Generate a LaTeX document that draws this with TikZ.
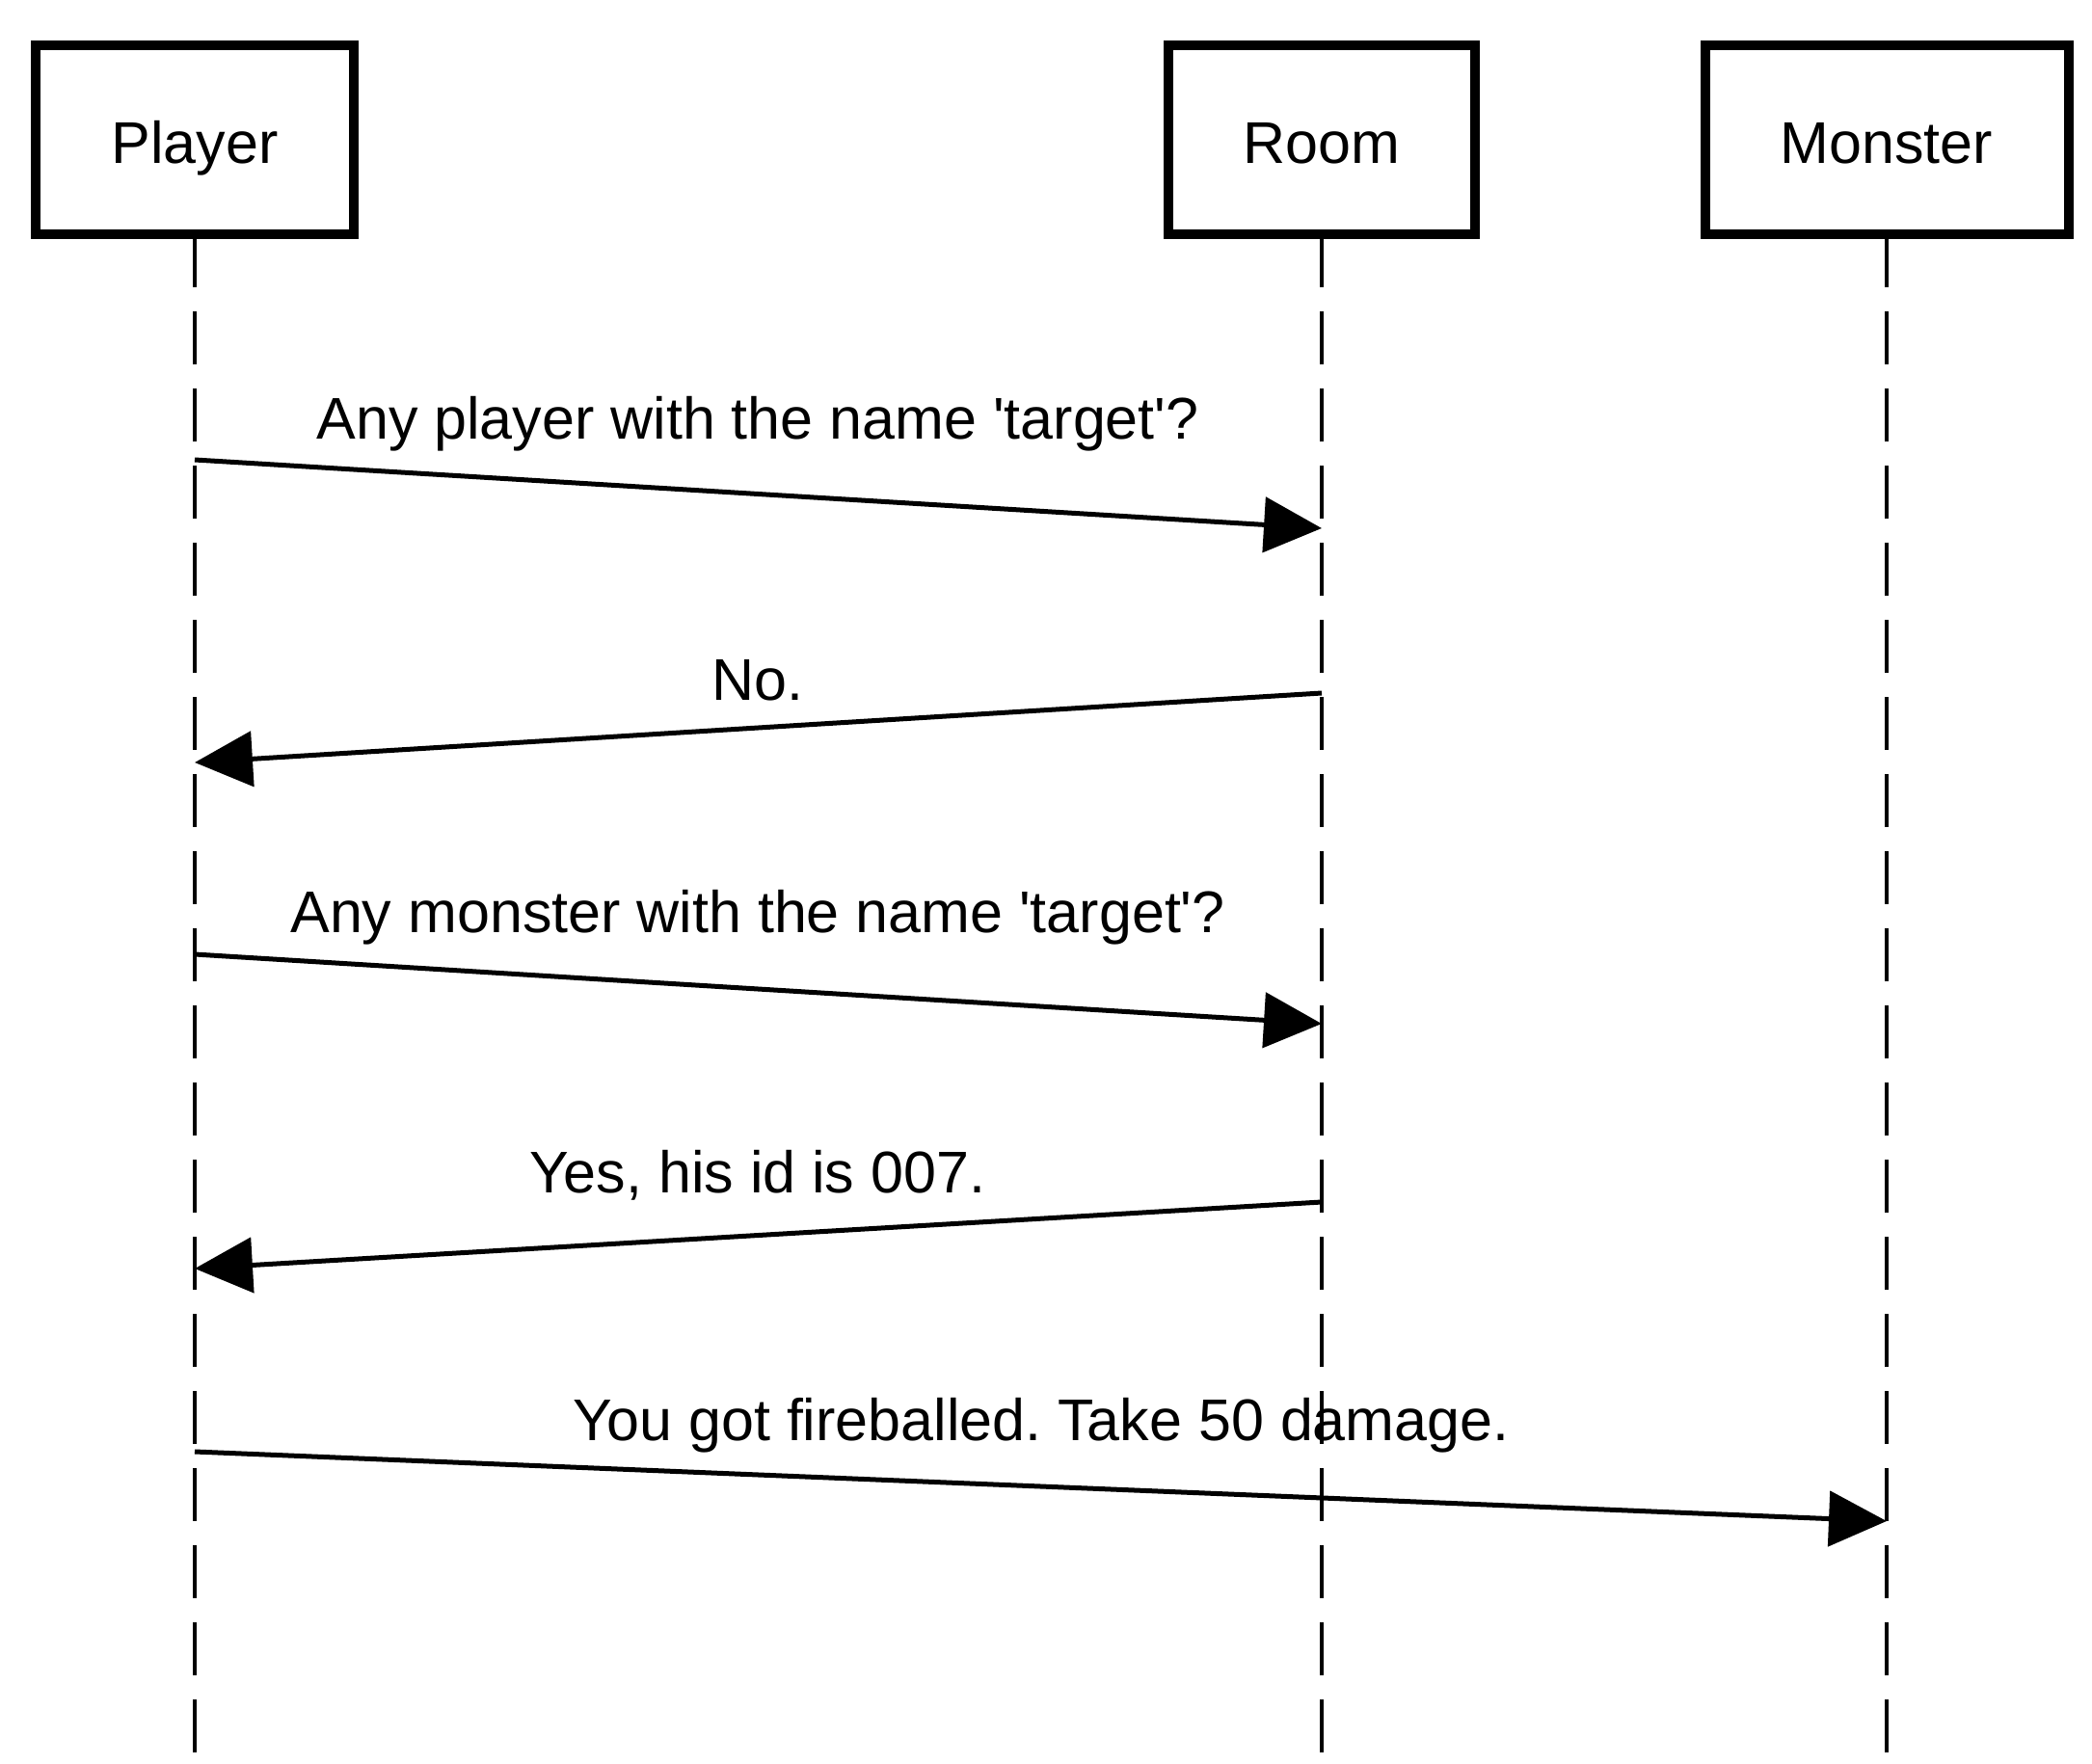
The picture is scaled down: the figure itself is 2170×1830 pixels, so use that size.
\documentclass[tikz,border=0pt]{standalone}
\usepackage{fontspec}
\newfontfamily\hv{Liberation Sans}
\usetikzlibrary{arrows.meta}
\frenchspacing
\begin{document}
\begin{tikzpicture}[x=1pt,y=-1pt,
  actor/.style={draw, line width=10pt, minimum width=#1, minimum height=196pt,
    outer sep=0pt, inner sep=0pt, text height=56pt, text depth=6pt,
    font=\hv\fontsize{61}{73}\selectfont},
  lifeline/.style={line width=4.5pt, dash pattern=on 55pt off 25pt},
  msg/.style={line width=5pt, -{Triangle[length=60pt,width=57pt]}},
  lbl/.style={anchor=base, inner sep=0pt, font=\hv\fontsize{61}{73}\selectfont}]
\useasboundingbox (0,0) rectangle (2170,1830);
% actors
\node[actor=330pt] (player)  at (202,145)  {Player};
\node[actor=318pt] (room)    at (1371,145) {Room};
\node[actor=377pt] (monster) at (1957,145) {Monster};
% lifeline ends
\coordinate (pEnd) at (202,1830);
\coordinate (rEnd) at (1371,1830);
\coordinate (mEnd) at (1957,1830);
\draw[lifeline] (player.south) -- (pEnd);
\draw[lifeline] (room.south) -- (rEnd);
\draw[lifeline] (monster.south) -- (mEnd);
% message anchor points
\coordinate (a1s) at (202,477);  \coordinate (a1e) at (1371,548);
\coordinate (a2s) at (1371,719); \coordinate (a2e) at (202,791);
\coordinate (a3s) at (202,990);  \coordinate (a3e) at (1371,1062);
\coordinate (a4s) at (1371,1247); \coordinate (a4e) at (202,1316);
\coordinate (a5s) at (202,1506); \coordinate (a5e) at (1957,1578);
\draw[msg] (a1s) -- (a1e);
\draw[msg] (a2s) -- (a2e);
\draw[msg] (a3s) -- (a3e);
\draw[msg] (a4s) -- (a4e);
\draw[msg] (a5s) -- (a5e);
% labels
\node[lbl] (l1) at (786,455)  {Any player with the name \textquotesingle target\textquotesingle ?};
\node[lbl] (l2) at (786,726)  {No.};
\node[lbl] (l3) at (786,967)  {Any monster with the name \textquotesingle target\textquotesingle ?};
\node[lbl] (l4) at (786,1237) {Yes, his id is 007.};
\node[lbl] (l5) at (1080,1494) {You got fireballed. Take 50 damage.};
\end{tikzpicture}
\end{document}
